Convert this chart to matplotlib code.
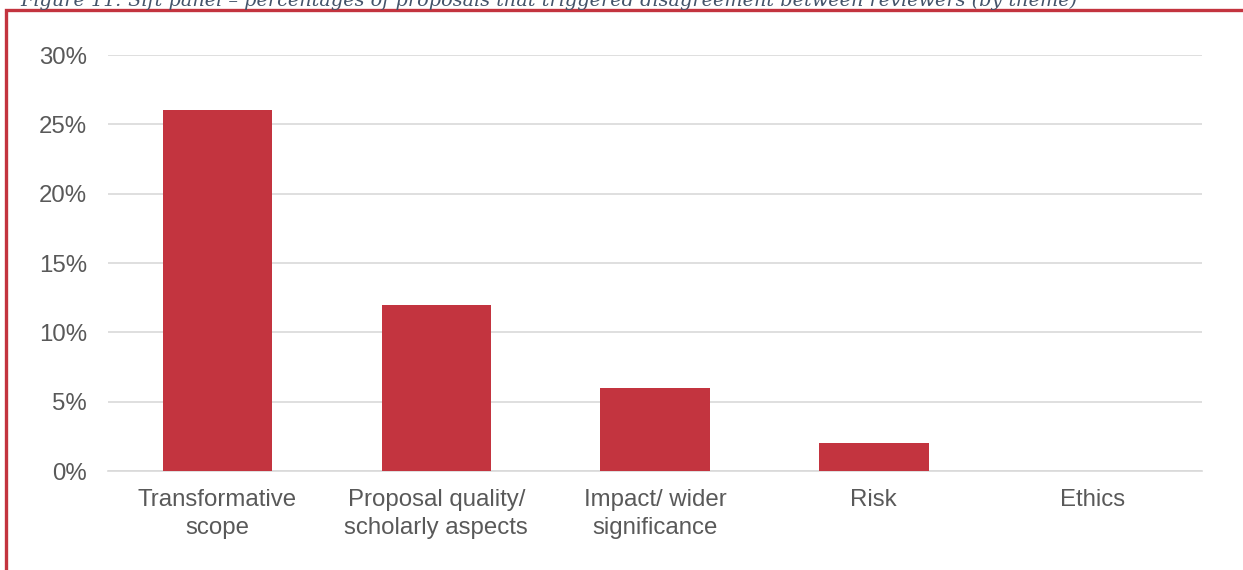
import matplotlib
matplotlib.use("Agg")
import matplotlib.pyplot as plt
from matplotlib.patches import Rectangle
from matplotlib.ticker import MultipleLocator, FuncFormatter

# Share of proposals (%) with reviewer disagreement, per theme
themes = ["Transformative\nscope", "Proposal quality/\nscholarly aspects",
          "Impact/ wider\nsignificance", "Risk", "Ethics"]
shares = [26, 12, 6, 2, 0]
title = ("Figure 11: Sift panel \u2013 percentages of proposals that triggered "
         "disagreement between reviewers (by theme)")

BAR_COLOR = "#C3343F"
GRID_COLOR = "#D9D9D9"
TEXT_COLOR = "#595959"
FRAME_COLOR = "#C3343F"

plt.rcParams["font.family"] = ["Liberation Sans", "DejaVu Sans"]

W, H = 1243, 570
fig = plt.figure(figsize=(W / 100, H / 100), dpi=100)

# plot area in pixel coordinates
left, right, top, bottom = 108, 1202, 55, 471
ax = fig.add_axes([left / W, 1 - bottom / H, (right - left) / W, (bottom - top) / H])

x = range(len(themes))
ax.bar(x, shares, width=0.5, color=BAR_COLOR, zorder=3)

ax.set_xlim(-0.5, len(themes) - 0.5)
ax.set_ylim(0, 30)
ax.yaxis.set_major_locator(MultipleLocator(5))
ax.yaxis.set_major_formatter(FuncFormatter(lambda v, _: f"{v:.0f}%"))
ax.grid(axis="y", color=GRID_COLOR, linewidth=1.2, zorder=0)
ax.set_xticks(list(x))
ax.set_xticklabels(themes, linespacing=1.35)

for s in ["top", "right", "left"]:
    ax.spines[s].set_visible(False)
ax.spines["bottom"].set_color(GRID_COLOR)
ax.spines["bottom"].set_linewidth(1.2)
ax.tick_params(axis="both", length=0, labelsize=17.3, colors=TEXT_COLOR)
ax.tick_params(axis="y", pad=15)
ax.tick_params(axis="x", pad=13)

# frame around the chart (open to the right and bottom)
fig.patches.append(Rectangle((6 / W, -0.1), 1.2, 1.1 - 10 / H, transform=fig.transFigure,
                             fill=False, edgecolor=FRAME_COLOR, linewidth=2.4))

# caption sits above the frame, mostly cut off by the figure edge
fig.text(20 / W, 1 - 6 / H, title, family=["DejaVu Serif"],
         style="italic", fontsize=13.9, color="#44546A", ha="left", va="baseline")

fig.savefig("out.png", dpi=100)
